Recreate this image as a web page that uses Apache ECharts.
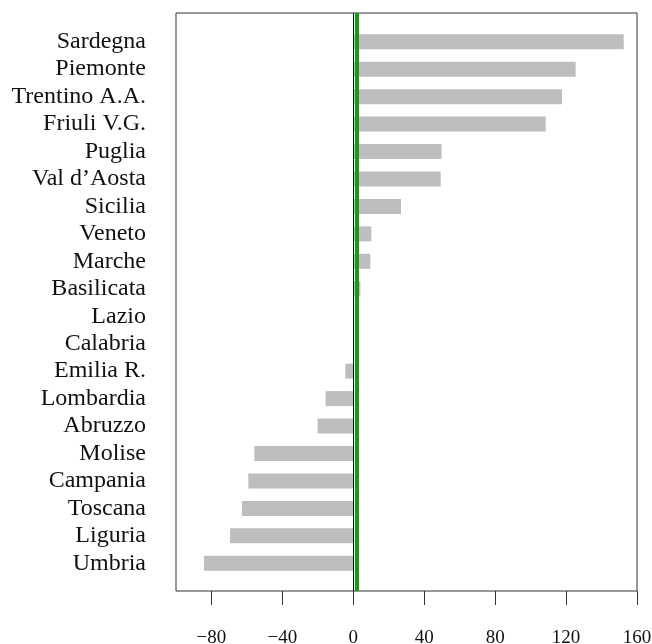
<!DOCTYPE html>
<html>
<head>
<meta charset="utf-8">
<script src="https://cdn.jsdelivr.net/npm/echarts@6/dist/echarts.min.js"></script>
<style>
  html, body { margin: 0; padding: 0; background: #fff; }
  #chart { width: 652px; height: 644px; }
</style>
</head>
<body>
<div id="chart"></div>
<script>
// Regions, top to bottom
const regions = [
  'Sardegna', 'Piemonte', 'Trentino A.A.', 'Friuli V.G.', 'Puglia',
  "Val d\u2019Aosta", 'Sicilia', 'Veneto', 'Marche', 'Basilicata',
  'Lazio', 'Calabria', 'Emilia R.', 'Lombardia', 'Abruzzo',
  'Molise', 'Campania', 'Toscana', 'Liguria', 'Umbria'
];
// Value per region
const values = [
  152.5, 125.4, 117.7, 108.5, 49.8,
  49.3, 26.9, 10.2, 9.6, 4.0,
  0, 0, -4.5, -15.6, -20.1,
  -55.8, -59.2, -62.8, -69.5, -84.2
];
// Horizontal axis ticks
const xTicks = [-80, -40, 0, 40, 80, 120, 160];
const xMin = -100, xMax = 160;
// Reference line
const refValue = 2;

const fontFamily = '"Liberation Serif", "Times New Roman", serif';
const chart = echarts.init(document.getElementById('chart'));

chart.setOption({
  animation: false,
  backgroundColor: '#ffffff',
  grid: [
    { left: 176, right: 15, top: 13, bottom: 53, show: true,
      outerBoundsMode: 'none', containLabel: false,
      borderColor: '#333', borderWidth: 1, backgroundColor: 'transparent' },
    { left: 176, right: 15, top: 28, bottom: 67,
      outerBoundsMode: 'none', containLabel: false }
  ],
  xAxis: [
    { type: 'value', gridIndex: 0, min: xMin, max: xMax,
      splitLine: { show: false },
      axisLine: { show: false },
      axisTick: { show: true, length: 14, customValues: xTicks,
        lineStyle: { color: '#333', width: 1 } },
      axisLabel: { show: true, customValues: xTicks, margin: 38,
        fontFamily: fontFamily, fontSize: 19, color: '#111',
        formatter: v => (v < 0 ? '\u2212' + Math.abs(v) : String(v)) } },
    { type: 'value', gridIndex: 1, min: xMin, max: xMax, show: false,
      splitLine: { show: false } }
  ],
  yAxis: [
    { type: 'value', gridIndex: 0, min: 0, max: 1, show: false,
      splitLine: { show: false } },
    { type: 'category', gridIndex: 1, data: regions, inverse: true,
      axisLine: { show: false }, axisTick: { show: false },
      splitLine: { show: false },
      axisLabel: { margin: 30, fontFamily: fontFamily, fontSize: 24,
        color: '#111', interval: 0 } }
  ],
  series: [
    { type: 'bar', xAxisIndex: 1, yAxisIndex: 1, data: values,
      barWidth: 15, itemStyle: { color: '#bebebe' }, silent: true },
    { type: 'line', xAxisIndex: 0, yAxisIndex: 0, data: [], z: 5,
      markLine: {
        silent: true, symbol: 'none', label: { show: false },
        data: [
          { xAxis: 0, lineStyle: { color: '#111', width: 1, type: 'solid' } },
          { xAxis: refValue, lineStyle: { color: '#119f11', width: 4, type: 'solid' } }
        ]
      } }
  ]
});
</script>
</body>
</html>
